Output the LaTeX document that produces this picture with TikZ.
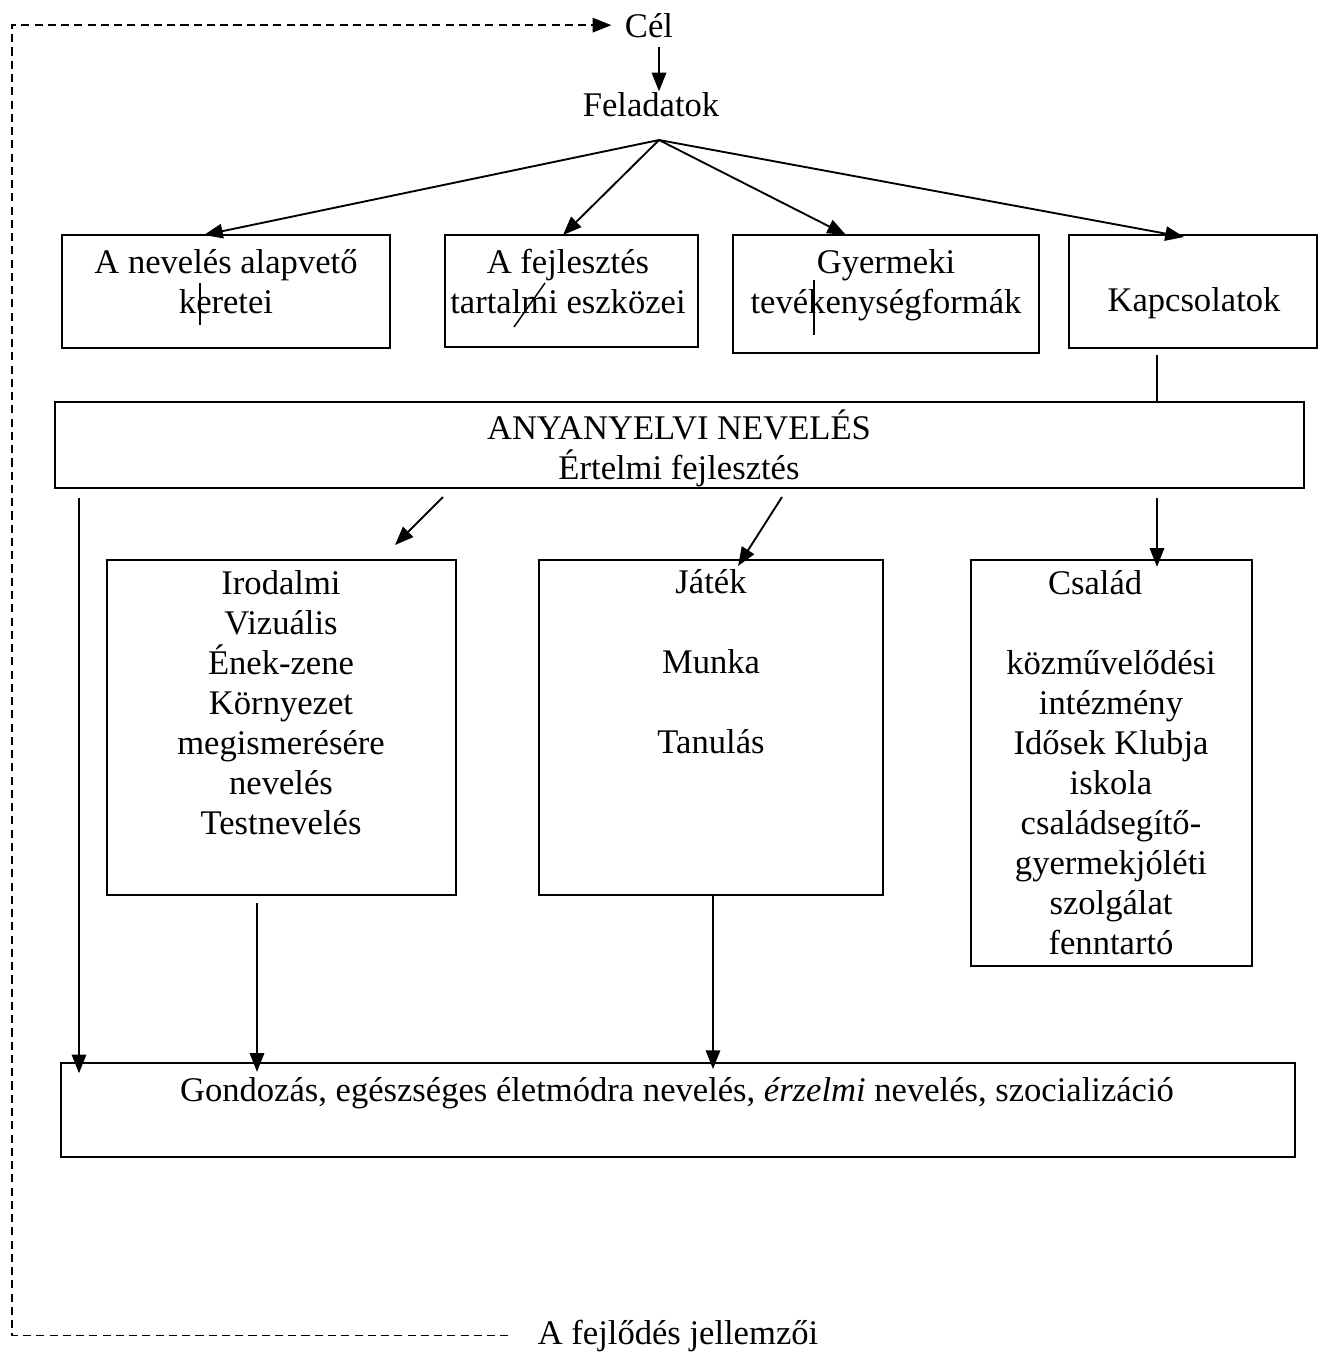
\documentclass[tikz,border=0pt]{standalone}
\usepackage{fontspec}
\setmainfont{Liberation Serif}
\usetikzlibrary{arrows.meta,fit}

\begin{document}
\begin{tikzpicture}[scale=1.000000,x=0.347pt,y=-0.347pt,
  >={Triangle[length=6.5pt,width=5pt]},
  box/.style={draw,line width=0.85pt,inner sep=0pt},
  lbl/.style={inner sep=0pt,text width=150pt,align=flush center,font=\fontsize{12}{13.9}\selectfont},
  txt/.style={inner sep=0pt,font=\fontsize{12}{13.9}\selectfont},
  wire/.style={line width=0.65pt},
  loopline/.style={line width=0.6pt,dash pattern=on 2.8pt off 1.8pt}]
\useasboundingbox (0.000000,0.000000) rectangle (1319.000000,1360.000000);
% Drawing boxes
\node[box,fit={(62.0,235.0)(390.0,348.0)}] (keretek) {};
\node[box,fit={(445.0,235.0)(698.0,347.0)}] (eszkozok) {};
\node[box,fit={(733.0,235.0)(1039.0,353.0)}] (tevek) {};
\node[box,fit={(1069.0,235.0)(1317.0,348.0)}] (kapcs) {};
\node[box,fit={(55.0,402.0)(1304.0,488.0)}] (anyanyelv) {};
\node[box,fit={(107.0,560.0)(456.0,895.0)}] (irodalmi) {};
\node[box,fit={(539.0,560.0)(883.0,895.0)}] (jatek) {};
\node[box,fit={(971.0,560.0)(1252.0,966.0)}] (csalad) {};
\node[box,fit={(61.0,1063.0)(1295.0,1157.0)}] (gondozas) {};
% Done with boxes; drawing labels
\node[txt,anchor=base] (cel) at (649.0,37.0) {Cél};
\node[txt,anchor=base] (feladatok) at (651.0,116.0) {Feladatok};
\node[lbl,anchor=base] (keretektxt) at (226.0,273.0) {A nevelés alapvető\\keretei};
\node[lbl,anchor=base] (eszkozoktxt) at (568.0,273.0) {A fejlesztés\\tartalmi eszközei};
\node[lbl,anchor=base] (tevektxt) at (886.0,273.0) {Gyermeki\\tevékenységformák};
\node[txt,anchor=base] (kapcstxt) at (1194.0,311.0) {Kapcsolatok};
\node[lbl,anchor=base] (anyanyelvtxt) at (679.0,439.0) {ANYANYELVI NEVELÉS\\Értelmi fejlesztés};
\node[lbl,anchor=base] (irodalmitxt) at (281.0,594.0) {Irodalmi\\Vizuális\\Ének-zene\\Környezet\\megismerésére\\nevelés\\Testnevelés};
\node[lbl,anchor=base] (jatektxt) at (711.0,593.0) {Játék\\[\baselineskip]Munka\\[\baselineskip]Tanulás};
\node[lbl,anchor=base] (csaladtxt) at (1111.0,594.0) {Család\hspace*{11pt}\mbox{}\\[\baselineskip]közművelődési\\intézmény\\Idősek Klubja\\iskola\\családsegítő-\\gyermekjóléti\\szolgálat\\fenntartó};
\node[txt,anchor=base] (gondozastxt) at (677.0,1101.0) {Gondozás, egészséges életmódra nevelés, \textit{érzelmi} nevelés, szocializáció};
\node[txt,anchor=base] (fejlodes) at (678.0,1344.0) {A fejlődés jellemzői};
% Done with labels; drawing arrows
\coordinate (hub) at (659.0,140.0);
\coordinate (keretekin) at (204.0,235.0);
\coordinate (eszkozokin) at (563.0,235.0);
\coordinate (tevekin) at (846.0,235.0);
\coordinate (kapcsin) at (1184.0,237.0);
\draw[wire,->,shorten <=3pt] (cel.south -| hub) -- (feladatok.north -| hub);
\foreach \t in {keretekin,eszkozokin,tevekin,kapcsin}
  \draw[wire,->] (hub) -- (\t);
% stray marks inside the upper boxes
\draw[line width=0.5pt] (200.0,283.0) -- (200.0,325.0);
\draw[line width=0.5pt] (514.0,327.0) -- (545.0,283.0);
\draw[line width=0.5pt] (814.0,280.0) -- (814.0,335.0);
% Line: Kapcsolatok -- ANYANYELVI NEVELES -- Csalad
\coordinate (linkx) at (1157.0,0.0);
\draw[wire,shorten <=2pt] (kapcs.south -| linkx) -- (anyanyelv.north -| linkx);
\draw[wire,->,shorten <=3pt,shorten >=-2.8pt] (anyanyelv.south -| linkx) -- (csalad.north -| linkx);
\coordinate (irodout) at (443.0,497.0);
\coordinate (irodin) at (395.0,545.0);
\coordinate (jatekout) at (782.0,497.0);
\coordinate (jatekin) at (738.0,566.0);
\draw[wire,->] (irodout) -- (irodin);
\draw[wire,->] (jatekout) -- (jatekin);
% Down into Gondozas
\coordinate (leftx) at (79.0,0.0);
\coordinate (irodx) at (257.0,0.0);
\coordinate (jatekx) at (713.0,0.0);
\draw[wire,->,shorten <=3pt,shorten >=-4pt] (anyanyelv.south -| leftx) -- (gondozas.north -| leftx);
\draw[wire,->,shorten <=2.5pt,shorten >=-3.5pt] (irodalmi.south -| irodx) -- (gondozas.north -| irodx);
\draw[wire,->,shorten >=-2.5pt] (jatek.south -| jatekx) -- (gondozas.north -| jatekx);
% Dashed loop: A fejlodes jellemzoi -> Cel
\coordinate (loopx) at (12.0,0.0);
\draw[loopline,->,shorten <=10pt,shorten >=4.5pt] (fejlodes.west) -- (fejlodes.west -| loopx) |- (cel.west);
% Done with arrows
\end{tikzpicture}
\end{document}
